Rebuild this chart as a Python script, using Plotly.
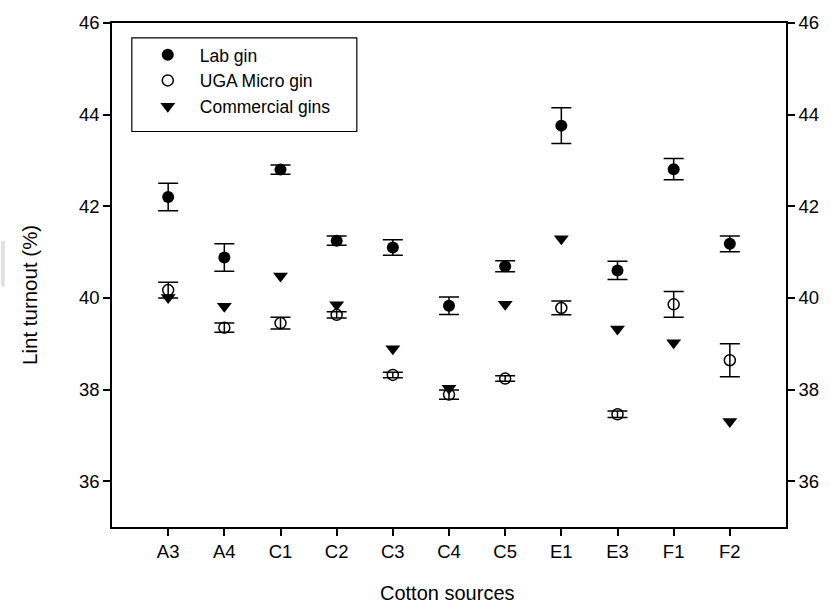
import plotly.graph_objects as go

categories = ["A3", "A4", "C1", "C2", "C3", "C4", "C5", "E1", "E3", "F1", "F2"]
lab_gin = [42.20, 40.88, 42.80, 41.25, 41.10, 39.83, 40.69, 43.76, 40.60, 42.81, 41.18]
lab_gin_err = [0.30, 0.30, 0.10, 0.10, 0.17, 0.19, 0.12, 0.39, 0.20, 0.23, 0.17]
uga_micro = [40.17, 39.35, 39.45, 39.63, 38.32, 37.89, 38.24, 39.78, 37.46, 39.86, 38.64]
uga_micro_err = [0.17, 0.10, 0.13, 0.07, 0.06, 0.10, 0.06, 0.15, 0.07, 0.28, 0.36]
commercial = [40.01, 39.82, 40.48, 39.85, 38.89, 38.03, 39.86, 41.29, 39.32, 39.02, 37.30]
y_ticks = [36, 38, 40, 42, 44, 46]

FONT = "Liberation Sans, Arial, sans-serif"
xs = list(range(len(categories)))

# plot area in pixels: x 112..792, y 16..527
PW, PH = 680.0, 511.0

def px(x):
    return (x - 112) / PW

def py(y):
    return (527 - y) / PH

fig = go.Figure()
fig.add_trace(go.Scatter(
    x=xs, y=lab_gin, mode="markers", name="Lab gin",
    marker=dict(symbol="circle", size=12, color="black", line=dict(width=0)),
    error_y=dict(type="data", array=lab_gin_err, visible=True, color="black", thickness=1.5, width=10),
))
fig.add_trace(go.Scatter(
    x=xs, y=uga_micro, mode="markers", name="UGA Micro gin",
    marker=dict(symbol="circle-open", size=11, color="black", line=dict(width=1.5, color="black")),
    error_y=dict(type="data", array=uga_micro_err, visible=True, color="black", thickness=1.5, width=10),
))
fig.add_trace(go.Scatter(
    x=xs, y=commercial, mode="markers", name="Commercial gins",
    marker=dict(symbol="triangle-down", size=13, color="black", line=dict(width=0)),
))
# invisible trace to activate the right-hand axis
fig.add_trace(go.Scatter(x=[xs[0]], y=[lab_gin[0]], yaxis="y2", mode="markers",
                         marker=dict(opacity=0), showlegend=False, hoverinfo="skip"))

axis_common = dict(
    showgrid=False, zeroline=False, showline=True, linecolor="black", linewidth=1.5,
    ticks="outside", ticklen=7, tickwidth=1.5, tickcolor="black",
    tickfont=dict(family=FONT, size=18.5, color="black"),
)

fig.update_layout(
    width=831, height=604,
    margin=dict(l=112, r=39, t=16, b=77),
    paper_bgcolor="white", plot_bgcolor="white",
    font=dict(family=FONT, size=18.5, color="black"),
    showlegend=True,
    legend=dict(
        x=px(136), y=py(30), xanchor="left", yanchor="top",
        bgcolor="rgba(0,0,0,0)", borderwidth=0,
        font=dict(family=FONT, size=17.5, color="black"),
        itemwidth=54, tracegroupgap=0,
    ),
    xaxis=dict(range=[-1, 11], tickmode="array", tickvals=xs, ticktext=categories,
               mirror=True, **axis_common),
    yaxis=dict(range=[35, 46], tickmode="array", tickvals=y_ticks, **axis_common),
    yaxis2=dict(range=[35, 46], tickmode="array", tickvals=y_ticks, overlaying="y",
                side="right", **axis_common),
    shapes=[
        dict(type="rect", xref="paper", yref="paper", x0=px(0), x1=px(4),
             y0=py(283), y1=py(237), fillcolor="#e2e2e2", line=dict(width=0), layer="below"),
        dict(type="rect", xref="paper", yref="paper", x0=px(132), x1=px(359),
             y0=py(126), y1=py(31), fillcolor="rgba(0,0,0,0)",
             line=dict(color="black", width=1.2), layer="above"),
    ],
    annotations=[
        dict(text="Cotton sources", xref="paper", yref="paper", x=px(450.5), y=py(594),
             xanchor="center", yanchor="middle", showarrow=False,
             font=dict(family=FONT, size=20, color="black")),
        dict(text="Lint turnout (%)", xref="paper", yref="paper", x=px(28), y=py(292),
             xanchor="center", yanchor="middle", textangle=-90, showarrow=False,
             font=dict(family=FONT, size=20.5, color="black")),
    ],
)

fig.write_html("out.html")
